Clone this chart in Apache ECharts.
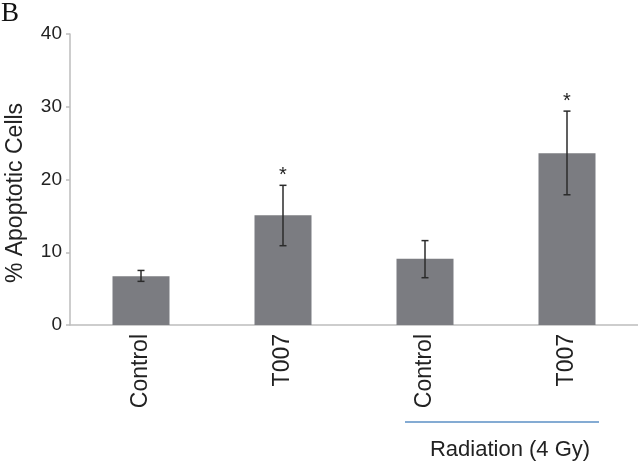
<!DOCTYPE html>
<html>
<head>
<meta charset="utf-8">
<script src="https://cdn.jsdelivr.net/npm/echarts@6/dist/echarts.min.js"></script>
<style>html,body{margin:0;padding:0;background:#fff;}#c{width:638px;height:461px;}</style>
</head>
<body>
<div id="c"></div>
<script>
const categories = ['Control', 'T007', 'Control ', 'T007 '];
const means = [6.7, 15.1, 9.1, 23.6];
const errLow = [6.0, 10.9, 6.5, 17.9];
const errHigh = [7.5, 19.2, 11.6, 29.4];
const significant = [false, true, false, true];
const yTicks = [0, 10, 20, 30, 40];

const chart = echarts.init(document.getElementById('c'), null, {renderer: 'canvas'});
const errData = categories.map((c, i) => [i, errLow[i], errHigh[i], significant[i] ? 1 : 0]);

chart.setOption({
  animation: false,
  backgroundColor: '#ffffff',
  grid: {left: 70, right: 0, top: 34, bottom: 136, outerBoundsMode: 'none', containLabel: false},
  xAxis: {
    type: 'category',
    data: categories,
    axisLine: {show: true, lineStyle: {color: '#bdbdbd', width: 1.5}},
    axisTick: {show: false},
    axisLabel: {rotate: 90, fontSize: 23, color: '#222', fontFamily: 'Liberation Sans', margin: 9,
      formatter: v => v.trim()}
  },
  yAxis: {
    type: 'value',
    min: 0, max: 40, interval: 10,
    axisLine: {show: true, lineStyle: {color: '#bdbdbd', width: 1.5}},
    axisTick: {show: true, inside: false, length: 4, lineStyle: {color: '#bdbdbd', width: 1.5}},
    splitLine: {show: false},
    axisLabel: {fontSize: 19, color: '#222', fontFamily: 'Liberation Sans', margin: 8,
      formatter: v => yTicks.includes(v) ? String(v) : ''}
  },
  series: [
    {
      type: 'bar',
      data: means,
      barWidth: 57,
      itemStyle: {color: '#7b7c81'}
    },
    {
      type: 'custom',
      data: errData,
      z: 10,
      renderItem: function (params, api) {
        const x = api.value(0);
        const lo = api.coord([x, api.value(1)]);
        const hi = api.coord([x, api.value(2)]);
        const cap = 3.5;
        const style = {stroke: '#2b2b2b', lineWidth: 1.5};
        const children = [
          {type: 'line', shape: {x1: lo[0], y1: lo[1], x2: hi[0], y2: hi[1]}, style},
          {type: 'line', shape: {x1: lo[0] - cap, y1: lo[1], x2: lo[0] + cap, y2: lo[1]}, style},
          {type: 'line', shape: {x1: hi[0] - cap, y1: hi[1], x2: hi[0] + cap, y2: hi[1]}, style}
        ];
        if (api.value(3) === 1) {
          children.push({type: 'text', x: hi[0], y: hi[1] - 10,
            style: {text: '*', fontSize: 20, fill: '#222', fontFamily: 'Liberation Sans', align: 'center', verticalAlign: 'middle'}});
        }
        return {type: 'group', children};
      }
    }
  ],
  graphic: [
    {type: 'text', x: 1, y: 0, style: {text: 'B', fontSize: 27, fill: '#111', fontFamily: 'Liberation Serif'}},
    {type: 'text', x: 16, y: 193, rotation: Math.PI / 2,
      style: {text: '% Apoptotic Cells', fontSize: 23, fill: '#222', fontFamily: 'Liberation Sans', align: 'center', verticalAlign: 'middle'}},
    {type: 'line', shape: {x1: 405, y1: 422, x2: 599, y2: 422}, style: {stroke: '#5b8fc5', lineWidth: 1.5}},
    {type: 'text', x: 510, y: 450, style: {text: 'Radiation (4 Gy)', fontSize: 22, fill: '#222', fontFamily: 'Liberation Sans', align: 'center', verticalAlign: 'middle'}}
  ]
});
</script>
</body>
</html>
